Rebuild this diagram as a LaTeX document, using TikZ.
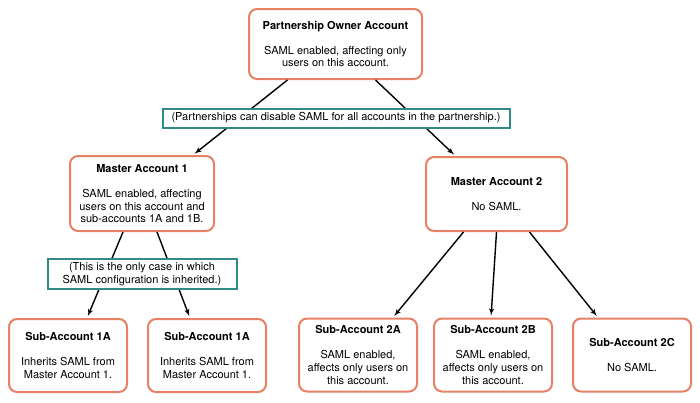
\documentclass[tikz,border=0pt]{standalone}
\usepackage{fontspec}
\setmainfont{TeX Gyre Heros}
\usetikzlibrary{arrows}
\definecolor{boxorange}{RGB}{232,128,102}
\definecolor{noteteal}{RGB}{48,138,134}

\begin{document}
\begin{tikzpicture}[x=1pt,y=-1pt]
\tikzset{account/.style = {shape=rectangle,draw=boxorange,line width=2pt,rounded corners=8pt,fill=white,align=center,inner sep=0pt,font=\fontsize{11}{12.7}\selectfont}}
\tikzset{note/.style = {shape=rectangle,draw=noteteal,line width=2pt,fill=white,align=center,inner sep=0pt,font=\fontsize{11}{13.5}\selectfont}}
\tikzset{link/.style = {->,> = latex',line width=1.4pt,shorten >=2pt}}
\useasboundingbox (0,0) rectangle (700,402);
% vertices
\node[account,minimum width=173pt,minimum height=70pt] (owner) at (335.5,44) {\textbf{Partnership Owner Account}\\[12.5pt]SAML enabled, affecting only\\users on this account.};
\node[account,minimum width=144pt,minimum height=75pt] (m1) at (142,193.5) {\textbf{Master Account 1}\\[12.5pt]SAML enabled, affecting\\users on this account and\\sub-accounts 1A and 1B.};
\node[account,minimum width=141pt,minimum height=74pt] (m2) at (496.5,194) {\textbf{Master Account 2}\\[12.5pt]No SAML.};
\node[account,minimum width=118pt,minimum height=73pt] (s1a) at (68,355.5) {\textbf{Sub-Account 1A}\\[12.5pt]Inherits SAML from\\Master Account 1.};
\node[account,minimum width=118pt,minimum height=73pt] (s1b) at (207,355.5) {\textbf{Sub-Account 1A}\\[12.5pt]Inherits SAML from\\Master Account 1.};
\node[account,minimum width=118pt,minimum height=73pt] (s2a) at (358,355) {\textbf{Sub-Account 2A}\\[12.5pt]SAML enabled,\\affects only users on\\this account.};
\node[account,minimum width=118pt,minimum height=73pt] (s2b) at (493,355) {\textbf{Sub-Account 2B}\\[12.5pt]SAML enabled,\\affects only users on\\this account.};
\node[account,minimum width=118pt,minimum height=73pt] (s2c) at (632,355) {\textbf{Sub-Account 2C}\\[12.5pt]No SAML.};
%edges
\draw[link] ([xshift=-48pt]owner.south) -- ([xshift=51pt]m1.north);
\draw[link] ([xshift=40pt]owner.south) -- ([xshift=-41pt]m2.north);
\draw[link] ([xshift=-19pt]m1.south) -- ([xshift=19pt]s1a.north);
\draw[link] ([xshift=15pt]m1.south) -- ([xshift=-17pt]s1b.north);
\draw[link] ([xshift=-33pt]m2.south) -- ([xshift=35pt]s2a.north);
\draw[link] (m2.south) -- ([xshift=-2pt]s2b.north);
\draw[link] ([xshift=33pt]m2.south) -- ([xshift=-34pt]s2c.north);
% notes
\node[note,minimum width=347pt,minimum height=19pt] (share) at (336,118) {(Partnerships can disable SAML for all accounts in the partnership.)};
\node[note,minimum width=189pt,minimum height=30pt] (inherit) at (142,274) {(This is the only case in which\\SAML configuration is inherited.)};
\end{tikzpicture}
\end{document}
